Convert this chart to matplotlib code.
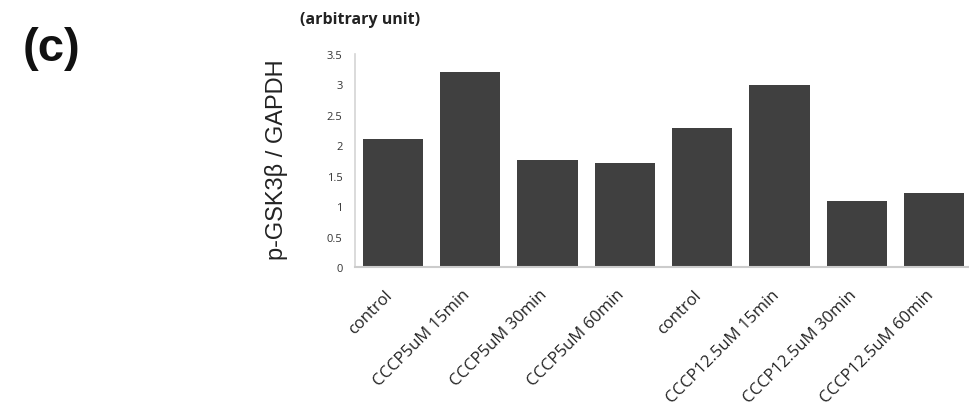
import matplotlib
matplotlib.use("Agg")
import matplotlib.pyplot as plt
import matplotlib.transforms as mtransforms
import numpy as np

# p-GSK3b / GAPDH ratio for each condition
conditions = ["control", "CCCP5uM 15min", "CCCP5uM 30min", "CCCP5uM 60min",
              "control", "CCCP12.5uM 15min", "CCCP12.5uM 30min", "CCCP12.5uM 60min"]
ratios = [2.10, 3.21, 1.75, 1.71, 2.28, 2.99, 1.09, 1.22]
yticks = [0, 0.5, 1, 1.5, 2, 2.5, 3, 3.5]
ytick_labels = ["0", "0.5", "1", "1.5", "2", "2.5", "3", "3.5"]

fig = plt.figure(figsize=(9.69, 4.14), dpi=100)
ax = fig.add_axes([0.3664, 0.3527, 0.6336, 0.5145])

x = np.arange(len(conditions))
ax.bar(x, ratios, width=0.78, color="#404040", zorder=2)

ax.set_xlim(-0.49, 7.45)
ax.set_ylim(0, 3.5)
ax.set_yticks(yticks)
ax.set_yticklabels(ytick_labels, fontsize=8, family="Open Sans",
                   color="#333333")
ax.tick_params(axis="y", length=0, pad=9)

ax.set_xticks(x)
ax.set_xticklabels(conditions, rotation=45, ha="right", va="center",
                   rotation_mode="anchor", fontsize=12, family="Open Sans",
                   color="#222222")
ax.tick_params(axis="x", length=0, pad=0)
shift = mtransforms.ScaledTranslation(-3 / 100, -25 / 100, fig.dpi_scale_trans)
for lbl in ax.get_xticklabels():
    lbl.set_transform(lbl.get_transform() + shift)

for side in ["top", "right"]:
    ax.spines[side].set_visible(False)
ax.spines["left"].set_color("#d4d4d4")
ax.spines["bottom"].set_color("#cccccc")
ax.spines["left"].set_linewidth(1.2)
ax.spines["bottom"].set_linewidth(1.5)

ax.set_ylabel("p-GSK3β / GAPDH", fontsize=17, family="Liberation Sans",
              color="#222222")
ax.yaxis.set_label_coords(-0.109, 0.507)

fig.text(0.3715, 0.952, "(arbitrary unit)", fontsize=11.5, family="Open Sans",
         weight="bold", ha="center", va="center", color="#222222")
fig.text(0.053, 0.882, "(c)", fontsize=34, family="Liberation Sans",
         weight="bold", ha="center", va="center", color="#111111")

fig.savefig("out.png", dpi=100)
